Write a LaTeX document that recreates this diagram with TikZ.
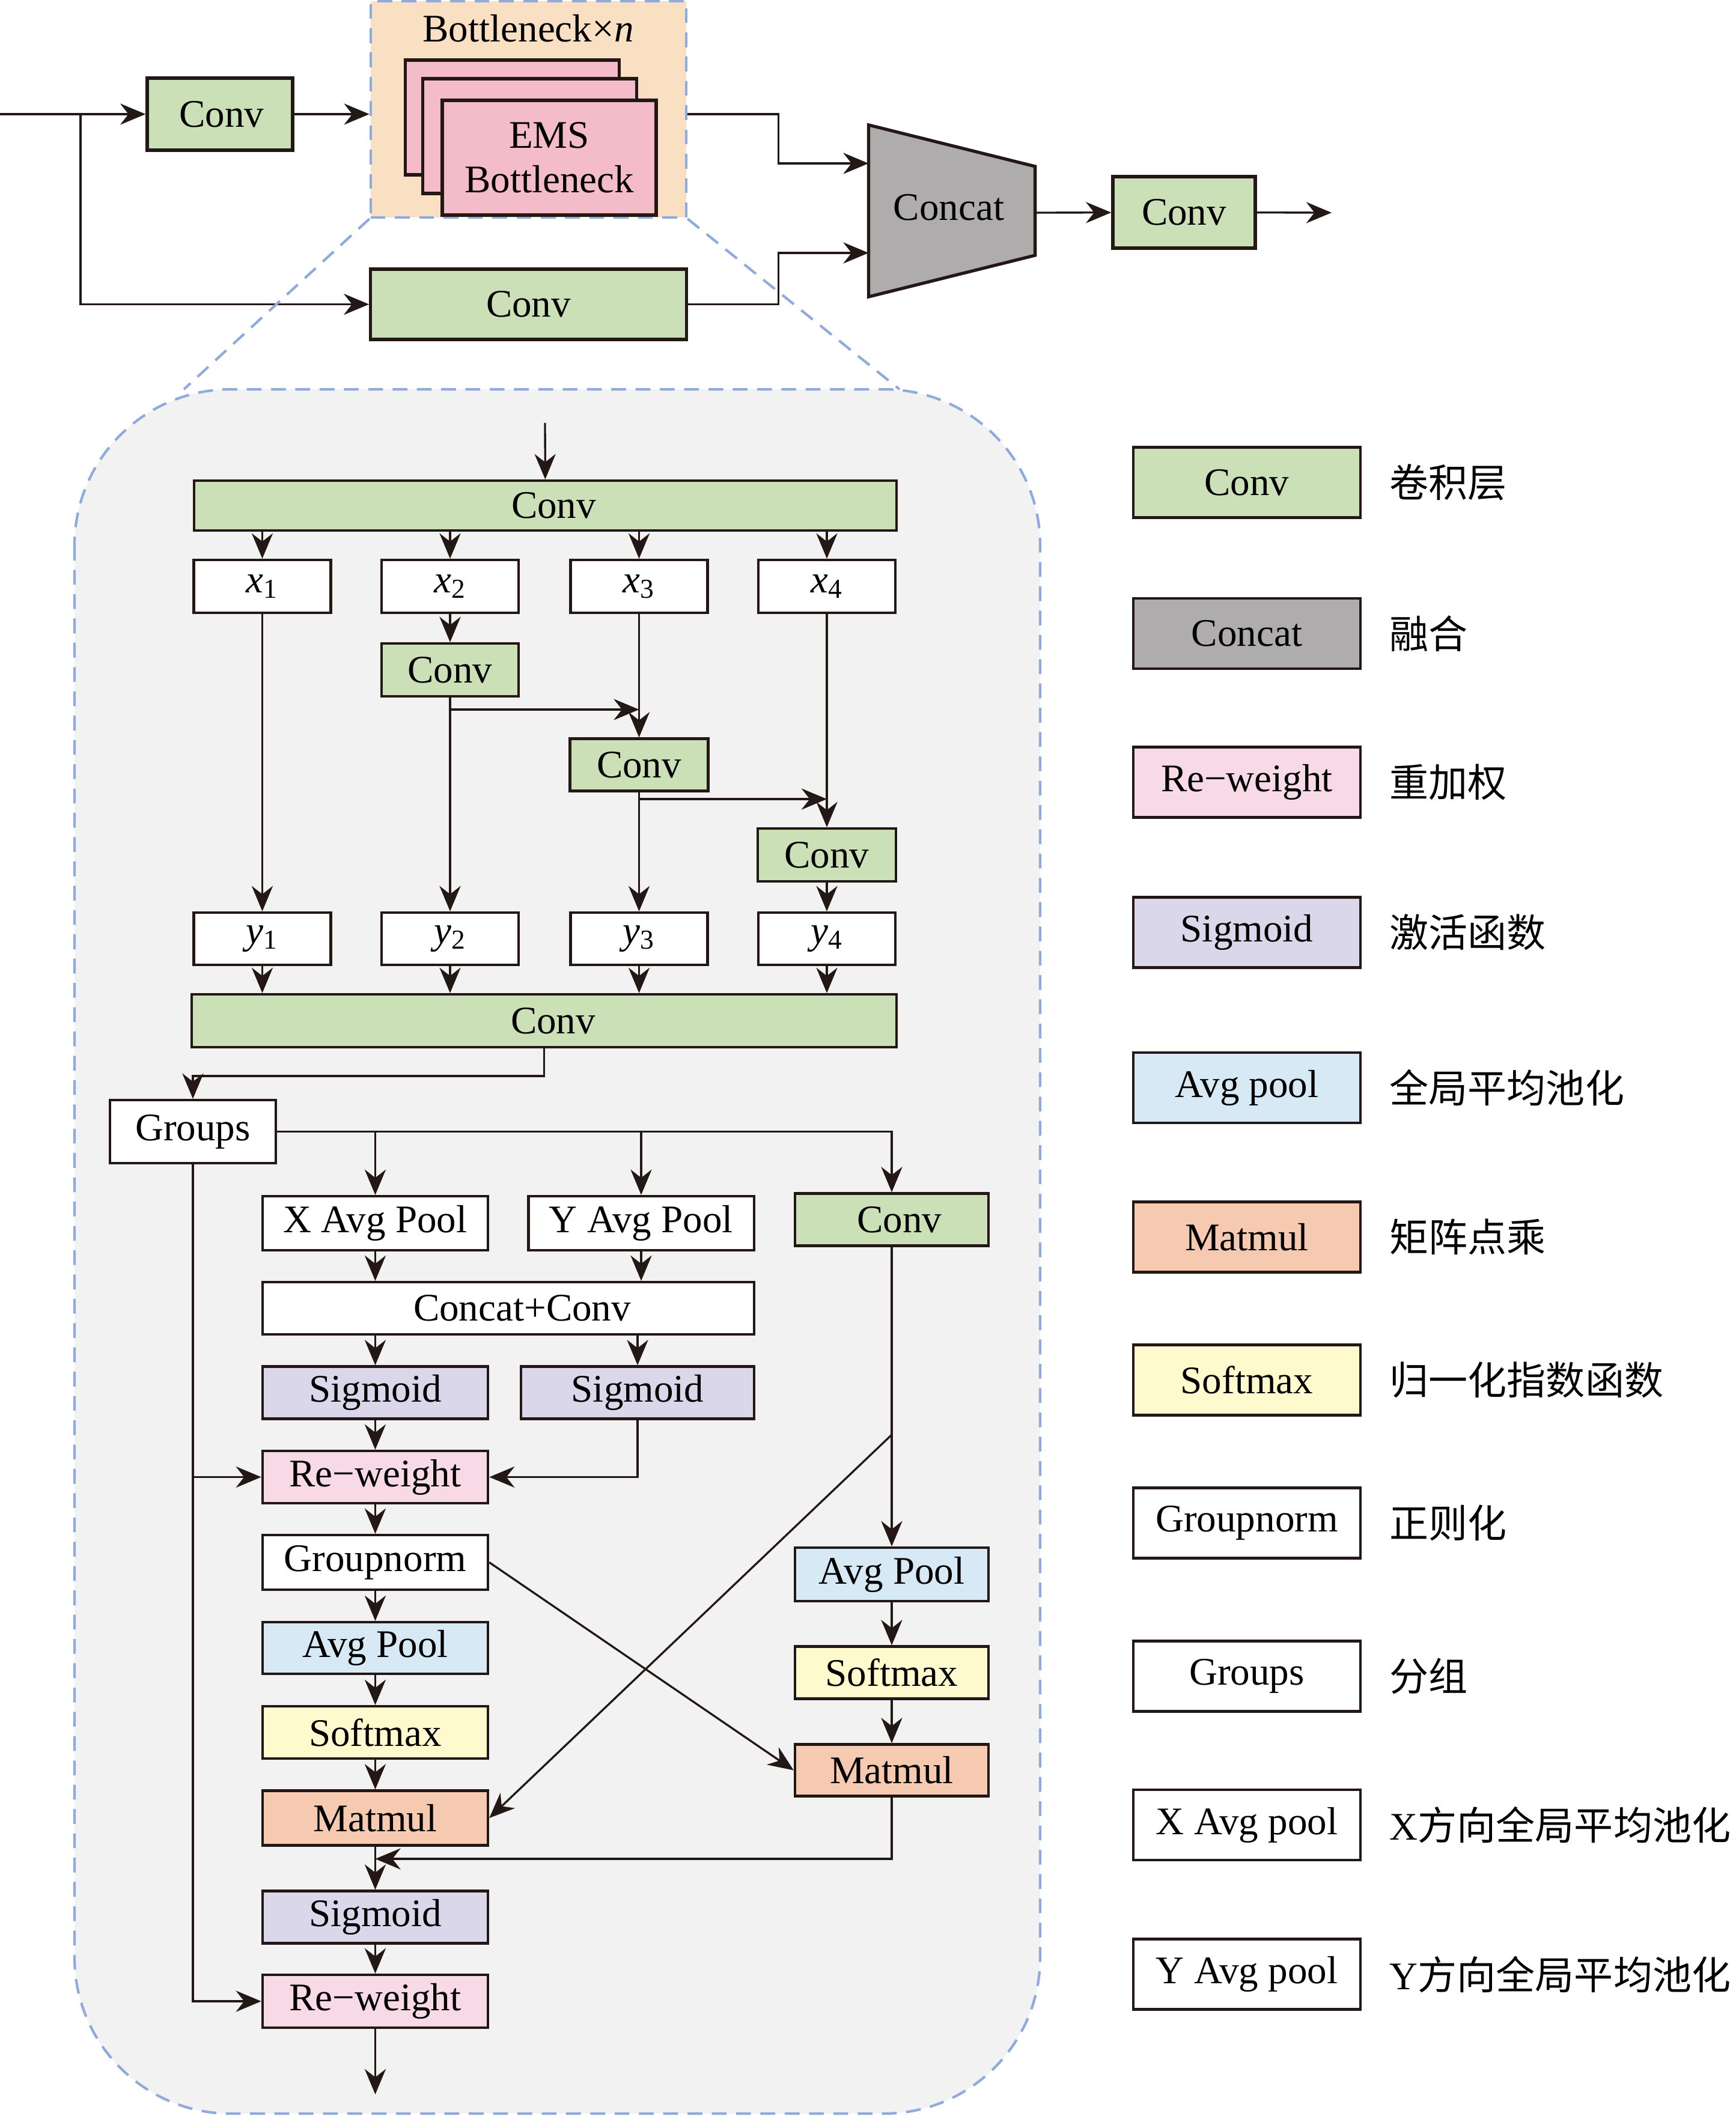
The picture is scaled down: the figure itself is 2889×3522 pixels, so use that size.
\documentclass[tikz,border=0pt]{standalone}
\usepackage{fontspec}
\setmainfont{Liberation Serif}
\newfontfamily\cjk{Noto Sans CJK SC}
\usetikzlibrary{arrows.meta}
\definecolor{ink}{RGB}{35,24,21}
\definecolor{convc}{RGB}{204,224,184}
\definecolor{concatc}{RGB}{174,172,173}
\definecolor{emsc}{RGB}{243,188,200}
\definecolor{rwc}{RGB}{247,218,230}
\definecolor{sigc}{RGB}{219,215,234}
\definecolor{poolc}{RGB}{216,233,246}
\definecolor{matc}{RGB}{246,202,176}
\definecolor{softc}{RGB}{255,250,206}
\definecolor{bneck}{RGB}{249,224,194}
\definecolor{panel}{RGB}{242,242,242}
\definecolor{dashblue}{RGB}{143,170,220}
\begin{document}
\begin{tikzpicture}[x=0.01cm,y=-0.01cm,font=\fontsize{18.5}{21}\selectfont,
  blk/.style={draw=ink,line width=1.2pt,inner sep=0pt,align=center},
  fat/.style={blk,line width=1.5pt},
  arr/.style={draw=ink,line width=0.95pt,-{Stealth[length=12pt,width=10pt]}},
  zoomline/.style={draw=dashblue,line width=1.2pt,dash pattern=on 7pt off 4.5pt}]
  \useasboundingbox (0,0) rectangle (2889,3522);

  % top level
  \node[fat,fill=convc,minimum width=2.42cm,minimum height=1.2cm] (conva) at (366,190) {\hspace*{0.06cm}Conv};
  \node[zoomline,fill=bneck,minimum width=5.25cm,minimum height=3.6cm,inner sep=0pt] (frame) at (879.5,182) {};
  \node (btitle) at (879,47) {Bottleneck×\textit{n}};
  \node[fat,fill=emsc,minimum width=3.56cm,minimum height=1.91cm] (ems1) at (852.5,195.5) {};
  \node[fat,fill=emsc,minimum width=3.56cm,minimum height=1.91cm] (ems2) at (881.5,226.5) {};
  \node[fat,fill=emsc,minimum width=3.56cm,minimum height=1.91cm] (ems3) at (914,262.5) {EMS\\Bottleneck};
  \node[fat,fill=convc,minimum width=5.25cm,minimum height=1.17cm] (convb) at (879.5,506.5) {Conv};
  \draw[ink,line width=1.5pt,fill=concatc] (1445.5,208) -- (1722.6,277) -- (1722.6,425) -- (1445.5,494) -- cycle;
  \node (concat) at (1579,345) {Concat};
  \coordinate (catin1) at (1445.5,272);
  \coordinate (catin2) at (1445.5,421);
  \coordinate (catout) at (1722.6,354);
  \node[fat,fill=convc,minimum width=2.37cm,minimum height=1.19cm] (convc) at (1970.5,353.5) {Conv};
  \coordinate (inp) at (0,190);
  \coordinate (fork) at (134,190);
  \coordinate (outp) at (2216,354);

  \draw[arr] (inp) -- (conva);
  \draw[arr] (fork) |- (convb);
  \draw[arr] (conva) -- (conva -| frame.west);
  \draw[arr] (conva -| frame.east) -- ++(151,0) |- (catin1);
  \draw[arr] (convb.east) -- ++(151,0) |- (catin2);
  \draw[arr] (catout) -- (convc);
  \draw[arr] (convc) -- (outp);

  % zoomed bottleneck
  \draw[zoomline] (frame.south west) -- (306,648);
  \draw[zoomline] (frame.south east) -- (1497,648);
  \draw[zoomline,fill=panel,rounded corners=2.6cm] (124,648) rectangle (1731,3518);

  \node[blk,fill=convc,minimum width=11.69cm,minimum height=0.83cm] (sconv) at (907.5,841.5) {\hspace*{0.28cm}Conv};
  \foreach \i/\cx in {1/436.5,2/749,3/1063.5,4/1376}{
    \node[blk,fill=white,minimum width=2.28cm,minimum height=0.88cm] (x\i) at (\cx,976) {\textit{x}\textsubscript{\i}};
    \node[blk,fill=white,minimum width=2.28cm,minimum height=0.87cm] (y\i) at (\cx,1562.5) {\textit{y}\textsubscript{\i}};
  }
  \node[blk,fill=convc,minimum width=2.28cm,minimum height=0.88cm] (cv2) at (749,1115) {Conv};
  \node[blk,fill=convc,minimum width=2.3cm,minimum height=0.87cm] (cv3) at (1063.5,1273) {Conv};
  \node[blk,fill=convc,minimum width=2.3cm,minimum height=0.88cm] (cv4) at (1376,1423) {Conv};
  \node[blk,fill=convc,minimum width=11.73cm,minimum height=0.88cm] (mconv) at (905.5,1699) {\hspace*{0.3cm}Conv};
  \coordinate (in2) at (907,704);
  \coordinate (j2) at (749,1181);
  \coordinate (j3) at (1063.5,1330);

  \draw[arr] (in2) -- (sconv);
  \foreach \i in {1,...,4}{
    \draw[arr] (sconv.south -| x\i) -- (x\i);
    \draw[arr] (y\i) -- (mconv.north -| y\i);
  }
  \draw[arr] (x1) -- (y1);
  \draw[arr] (x2) -- (cv2);
  \draw[arr] (cv2) -- (y2);
  \draw[arr] (x3) -- (cv3);
  \draw[arr] (cv3) -- (y3);
  \draw[arr] (x4) -- (cv4);
  \draw[arr] (cv4) -- (y4);
  \draw[arr] (j2) -- (j2 -| x3);
  \draw[arr] (j3) -- (j3 -| x4);

  \node[blk,fill=white,minimum width=2.76cm,minimum height=1.05cm] (groups) at (321,1883.5) {Groups};
  \node[blk,fill=white,minimum width=3.75cm,minimum height=0.9cm] (xap) at (624.5,2036) {X Avg Pool};
  \node[blk,fill=white,minimum width=3.75cm,minimum height=0.9cm] (yap) at (1067,2036) {Y Avg Pool};
  \node[blk,fill=convc,minimum width=3.22cm,minimum height=0.87cm] (rconv) at (1484,2030) {\hspace*{0.26cm}Conv};
  \node[blk,fill=white,minimum width=8.18cm,minimum height=0.87cm] (cc) at (846,2177.5) {\hspace*{0.46cm}Concat+Conv};
  \node[blk,fill=sigc,minimum width=3.75cm,minimum height=0.87cm] (sgl) at (624.5,2318) {Sigmoid};
  \node[blk,fill=sigc,minimum width=3.88cm,minimum height=0.87cm] (sgr) at (1061,2318) {Sigmoid};
  \node[blk,fill=rwc,minimum width=3.75cm,minimum height=0.87cm] (rw1) at (624.5,2458.5) {Re−weight};
  \node[blk,fill=white,minimum width=3.75cm,minimum height=0.91cm] (gn) at (624.5,2600.5) {Groupnorm};
  \node[blk,fill=poolc,minimum width=3.75cm,minimum height=0.86cm] (apl) at (624.5,2743) {Avg Pool};
  \node[blk,fill=softc,minimum width=3.75cm,minimum height=0.87cm] (sml) at (624.5,2883.5) {Softmax};
  \node[blk,fill=matc,minimum width=3.75cm,minimum height=0.91cm] (mml) at (624.5,3026) {Matmul};
  \node[blk,fill=sigc,minimum width=3.75cm,minimum height=0.87cm] (sgb) at (624.5,3191) {Sigmoid};
  \node[blk,fill=rwc,minimum width=3.75cm,minimum height=0.88cm] (rw2) at (624.5,3331) {Re−weight};
  \node[blk,fill=poolc,minimum width=3.22cm,minimum height=0.89cm] (apr) at (1484,2620.5) {Avg Pool};
  \node[blk,fill=softc,minimum width=3.22cm,minimum height=0.87cm] (smr) at (1484,2784) {Softmax};
  \node[blk,fill=matc,minimum width=3.22cm,minimum height=0.86cm] (mmr) at (1484,2946.5) {Matmul};
  \coordinate (tap) at (1484,2388);
  \coordinate (mj) at (624.5,3094);
  \coordinate (fin) at (624.5,3486);

  \draw[arr] (mconv.south) -- ++(0,46) -| (groups);
  \draw[arr] (groups.east) -| (rconv);
  \draw[arr] (groups.east -| xap) -- (xap);
  \draw[arr] (groups.east -| yap) -- (yap);
  \draw[arr] (xap) -- (xap |- cc.north);
  \draw[arr] (yap) -- (yap |- cc.north);
  \draw[arr] (cc.south -| sgl) -- (sgl);
  \draw[arr] (cc.south -| sgr) -- (sgr);
  \draw[arr] (sgl) -- (rw1);
  \draw[arr] (sgr) |- (rw1);
  \draw[arr] (groups.south) |- (rw2);
  \draw[arr] (groups.south |- rw1) -- (rw1);
  \draw[arr] (rw1) -- (gn);
  \draw[arr] (gn) -- (apl);
  \draw[arr] (apl) -- (sml);
  \draw[arr] (sml) -- (mml);
  \draw[arr] (mml) -- (sgb);
  \draw[arr] (sgb) -- (rw2);
  \draw[arr] (rw2) -- (fin);
  \draw[arr] (rconv) -- (apr);
  \draw[arr] (apr) -- (smr);
  \draw[arr] (smr) -- (mmr);
  \draw[arr] (tap) -- (mml.east);
  \draw[arr] (gn.east) -- (mmr.west);
  \draw[arr] (mmr) |- (mj);

  % legend
  \foreach \n/\lab/\col/\ly/\cn in {
    lconv/Conv/convc/803/{\cjk 卷积层},
    lcat/Concat/concatc/1054.5/{\cjk 融合},
    lrw/Re−weight/rwc/1302/{\cjk 重加权},
    lsig/Sigmoid/sigc/1552/{\cjk 激活函数},
    lpool/Avg pool/poolc/1810.5/{\cjk 全局平均池化},
    lmat/Matmul/matc/2059/{\cjk 矩阵点乘},
    lsoft/Softmax/softc/2297/{\cjk 归一化指数函数},
    lgn/Groupnorm/white/2535/{\cjk 正则化},
    lgrp/Groups/white/2790/{\cjk 分组},
    lxap/X Avg pool/white/3037.5/{X{\cjk 方向全局平均池化}},
    lyap/Y Avg pool/white/3286/{Y{\cjk 方向全局平均池化}}}{
    \node[blk,fill=\col,minimum width=3.78cm,minimum height=1.17cm] (\n) at (2075,\ly) {\lab};
    \node[anchor=west,inner sep=0pt] (\n t) at (2312,\ly) {\cn};
  }
\end{tikzpicture}
\end{document}
